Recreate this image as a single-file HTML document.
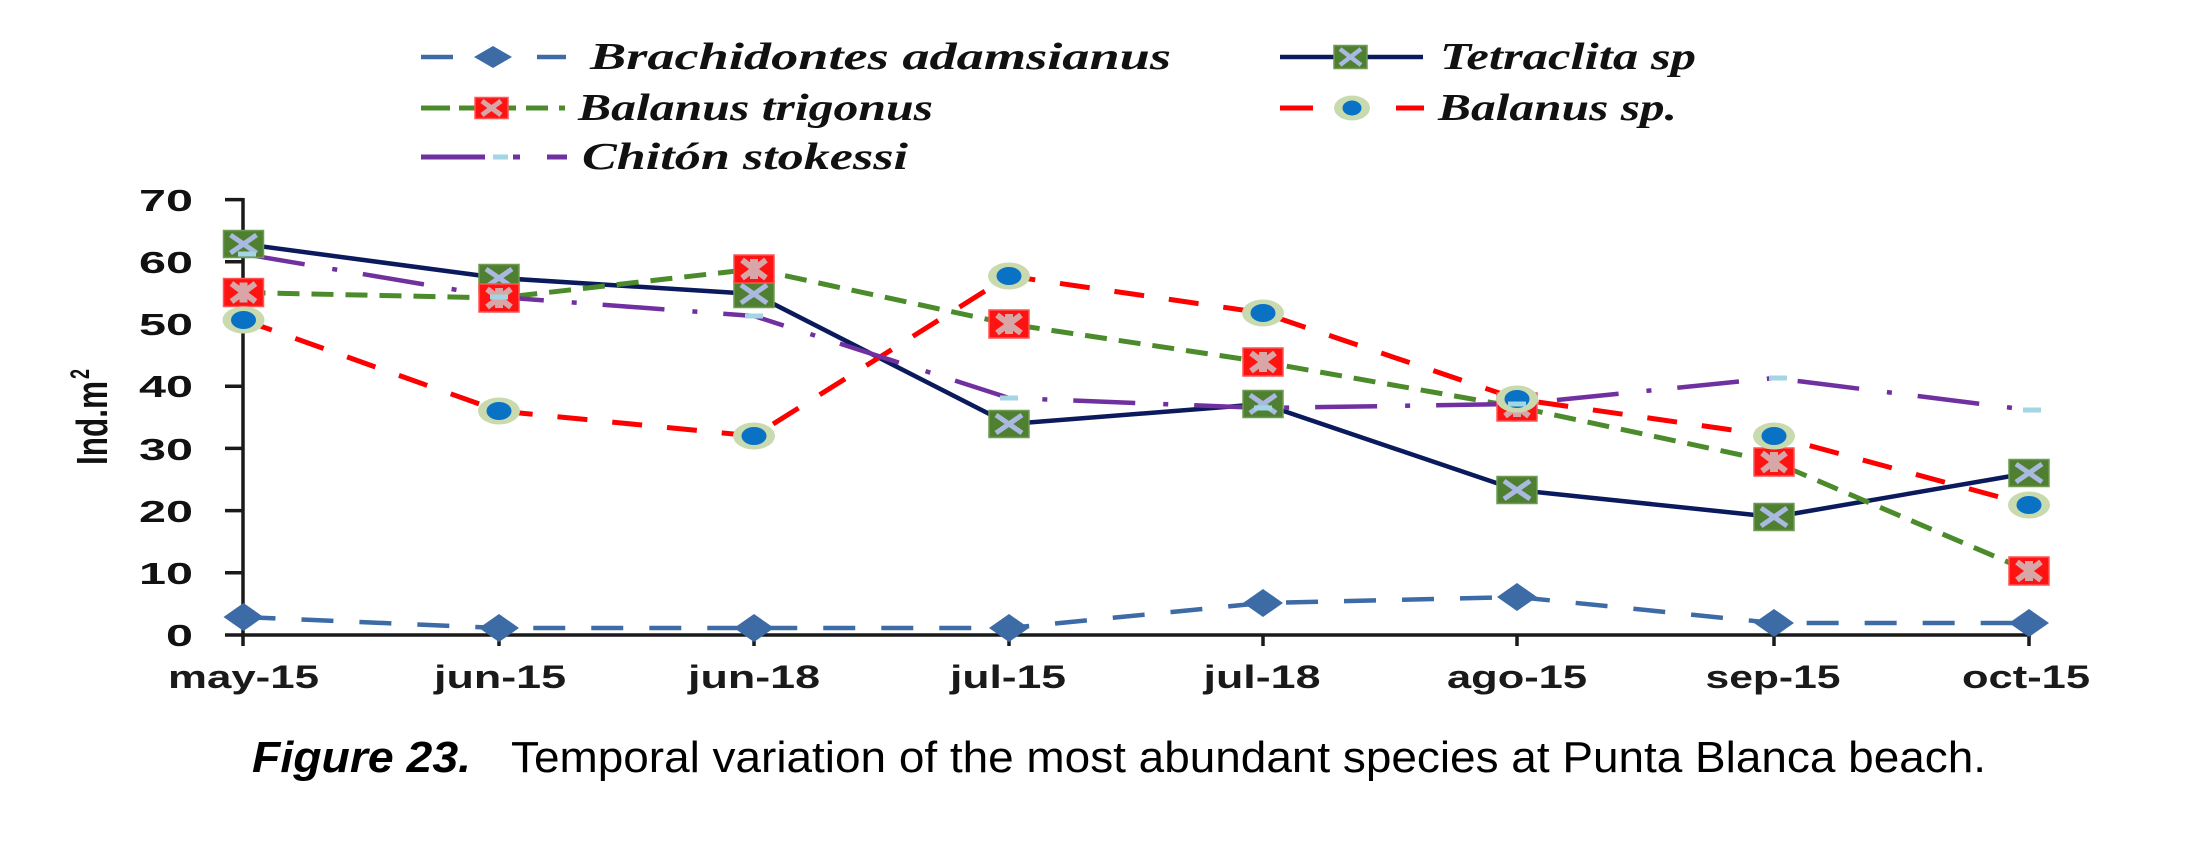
<!DOCTYPE html>
<html>
<head>
<meta charset="utf-8">
<style>
html,body{margin:0;padding:0;background:#fff;}
svg{display:block;}
</style>
</head>
<body>
<svg width="2196" height="863" viewBox="0 0 2196 863" xmlns="http://www.w3.org/2000/svg" xmlns:xlink="http://www.w3.org/1999/xlink">
<defs>
  <g id="mTet">
    <rect x="-20" y="-13.5" width="40" height="27" fill="#4F7F30" stroke="#6F9B52" stroke-width="1.5"/>
    <line x1="-13" y1="-9" x2="13" y2="9" stroke="#AAB9E0" stroke-width="5"/>
    <line x1="-13" y1="9" x2="13" y2="-9" stroke="#AAB9E0" stroke-width="5"/>
  </g>
  <g id="mTri">
    <rect x="-20" y="-14" width="40" height="28" fill="#FF1212" stroke="#FF5555" stroke-width="1.5"/>
    <line x1="-12" y1="-9" x2="12" y2="9" stroke="#D8A6A6" stroke-width="6"/>
    <line x1="-12" y1="9" x2="12" y2="-9" stroke="#D8A6A6" stroke-width="6"/>
    <rect x="-4" y="-10" width="8" height="20" fill="#D8A6A6"/>
  </g>
  <g id="mSp">
    <ellipse cx="0" cy="0" rx="21" ry="13.5" fill="#C9DAAE"/>
    <ellipse cx="0" cy="0" rx="12.5" ry="9" fill="#0A72C4"/>
  </g>
  <g id="mBra">
    <polygon points="0,-14 20,0 0,14 -20,0" fill="#3D6BA6"/>
  </g>
  <g id="mChi">
    <rect x="-9" y="-2.5" width="18" height="5" fill="#A3D5E3"/>
  </g>
</defs>

<!-- Legend -->
<g>
  <line x1="421" y1="57" x2="453" y2="57" stroke="#3D6BA6" stroke-width="4.5"/>
  <line x1="537" y1="57" x2="566" y2="57" stroke="#3D6BA6" stroke-width="4.5"/>
  <polygon points="493,46 512,57 493,68 474,57" fill="#3D6BA6"/>
  <text x="590" y="69" font-family="Liberation Serif, serif" font-style="italic" font-weight="bold" font-size="38" textLength="581" lengthAdjust="spacingAndGlyphs" fill="#111">Brachidontes adamsianus</text>

  <line x1="421" y1="108" x2="450" y2="108" stroke="#4B8B2B" stroke-width="5"/>
  <line x1="459" y1="108" x2="476" y2="108" stroke="#4B8B2B" stroke-width="5"/>
  <line x1="506" y1="108" x2="516" y2="108" stroke="#4B8B2B" stroke-width="5"/>
  <line x1="526" y1="108" x2="548" y2="108" stroke="#4B8B2B" stroke-width="5"/>
  <line x1="559" y1="108" x2="565" y2="108" stroke="#4B8B2B" stroke-width="5"/>
  <rect x="475" y="97.5" width="33" height="21" fill="#FF1212" stroke="#FF5555" stroke-width="1.5"/>
  <line x1="482" y1="101" x2="501" y2="115" stroke="#D8A6A6" stroke-width="5"/>
  <line x1="482" y1="115" x2="501" y2="101" stroke="#D8A6A6" stroke-width="5"/>
  <text x="578" y="120" font-family="Liberation Serif, serif" font-style="italic" font-weight="bold" font-size="38" textLength="355" lengthAdjust="spacingAndGlyphs" fill="#111">Balanus trigonus</text>

  <line x1="421" y1="157" x2="485" y2="157" stroke="#7030A0" stroke-width="5"/>
  <line x1="493" y1="157" x2="508" y2="157" stroke="#A3D5E3" stroke-width="5"/>
  <line x1="513" y1="157" x2="520" y2="157" stroke="#7030A0" stroke-width="5"/>
  <line x1="547" y1="157" x2="567" y2="157" stroke="#7030A0" stroke-width="5"/>
  <text x="582" y="169" font-family="Liberation Serif, serif" font-style="italic" font-weight="bold" font-size="38" textLength="326" lengthAdjust="spacingAndGlyphs" fill="#111">Chitón  stokessi</text>

  <line x1="1280" y1="57" x2="1423" y2="57" stroke="#0A1A5C" stroke-width="4.5"/>
  <rect x="1334" y="45.5" width="33" height="23" fill="#4F7F30" stroke="#6F9B52" stroke-width="1.5"/>
  <line x1="1340" y1="49" x2="1361" y2="65" stroke="#AAB9E0" stroke-width="4.5"/>
  <line x1="1340" y1="65" x2="1361" y2="49" stroke="#AAB9E0" stroke-width="4.5"/>
  <text x="1440" y="69" font-family="Liberation Serif, serif" font-style="italic" font-weight="bold" font-size="38" textLength="256" lengthAdjust="spacingAndGlyphs" fill="#111">Tetraclita sp</text>

  <line x1="1280" y1="108" x2="1313" y2="108" stroke="#FF0000" stroke-width="5"/>
  <line x1="1396" y1="108" x2="1424" y2="108" stroke="#FF0000" stroke-width="5"/>
  <ellipse cx="1352" cy="108" rx="18" ry="12.5" fill="#C9DAAE"/>
  <ellipse cx="1352" cy="108" rx="9.5" ry="7.5" fill="#0A72C4"/>
  <text x="1438" y="120" font-family="Liberation Serif, serif" font-style="italic" font-weight="bold" font-size="38" textLength="239" lengthAdjust="spacingAndGlyphs" fill="#111">Balanus sp.</text>
</g>

<!-- Axes -->
<g stroke="#1a1a1a" stroke-width="3.5">
  <line x1="243" y1="198" x2="243" y2="646"/>
  <line x1="241" y1="635" x2="2031" y2="635"/>
  <line x1="225" y1="635" x2="243" y2="635"/>
  <line x1="225" y1="572.8" x2="243" y2="572.8"/>
  <line x1="225" y1="510.6" x2="243" y2="510.6"/>
  <line x1="225" y1="448.4" x2="243" y2="448.4"/>
  <line x1="225" y1="386.2" x2="243" y2="386.2"/>
  <line x1="225" y1="324" x2="243" y2="324"/>
  <line x1="225" y1="261.8" x2="243" y2="261.8"/>
  <line x1="225" y1="199.6" x2="243" y2="199.6"/>
  <line x1="499" y1="635" x2="499" y2="646"/>
  <line x1="754" y1="635" x2="754" y2="646"/>
  <line x1="1009" y1="635" x2="1009" y2="646"/>
  <line x1="1263" y1="635" x2="1263" y2="646"/>
  <line x1="1517" y1="635" x2="1517" y2="646"/>
  <line x1="1774" y1="635" x2="1774" y2="646"/>
  <line x1="2029" y1="635" x2="2029" y2="646"/>
</g>

<!-- Y tick labels -->
<g font-family="Liberation Sans, sans-serif" font-weight="bold" font-size="31" fill="#111" text-anchor="end">
  <text x="193" y="646" textLength="27" lengthAdjust="spacingAndGlyphs">0</text>
  <text x="193" y="584" textLength="54" lengthAdjust="spacingAndGlyphs">10</text>
  <text x="193" y="522" textLength="54" lengthAdjust="spacingAndGlyphs">20</text>
  <text x="193" y="460" textLength="54" lengthAdjust="spacingAndGlyphs">30</text>
  <text x="193" y="397" textLength="54" lengthAdjust="spacingAndGlyphs">40</text>
  <text x="193" y="335" textLength="54" lengthAdjust="spacingAndGlyphs">50</text>
  <text x="193" y="273" textLength="54" lengthAdjust="spacingAndGlyphs">60</text>
  <text x="193" y="211" textLength="54" lengthAdjust="spacingAndGlyphs">70</text>
</g>

<!-- Y axis title -->
<g transform="translate(107,465) scale(1.5,1) rotate(-90)">
  <text x="0" y="0" font-family="Liberation Sans, sans-serif" font-weight="bold" font-size="29" fill="#111" textLength="84" lengthAdjust="spacingAndGlyphs">Ind.m</text>
  <text x="86" y="-12" font-family="Liberation Sans, sans-serif" font-weight="bold" font-size="18" fill="#111">2</text>
</g>

<!-- X labels -->
<g font-family="Liberation Sans, sans-serif" font-weight="bold" font-size="32" fill="#1a1a1a" text-anchor="middle">
  <text x="243.5" y="688" textLength="151" lengthAdjust="spacingAndGlyphs">may-15</text>
  <text x="500" y="688" textLength="132" lengthAdjust="spacingAndGlyphs">jun-15</text>
  <text x="754" y="688" textLength="132" lengthAdjust="spacingAndGlyphs">jun-18</text>
  <text x="1008" y="688" textLength="116" lengthAdjust="spacingAndGlyphs">jul-15</text>
  <text x="1262" y="688" textLength="117" lengthAdjust="spacingAndGlyphs">jul-18</text>
  <text x="1517" y="688" textLength="140" lengthAdjust="spacingAndGlyphs">ago-15</text>
  <text x="1773" y="688" textLength="135" lengthAdjust="spacingAndGlyphs">sep-15</text>
  <text x="2026" y="688" textLength="128" lengthAdjust="spacingAndGlyphs">oct-15</text>
</g>

<!-- Series lines -->
<g fill="none" stroke-linejoin="round">
  <polyline points="243.5,617 499,628 754,628 1009,628 1263,603 1517,597 1774,623 2029,623" stroke="#3D6BA6" stroke-width="4.5" stroke-dasharray="32 26"/>
  <polyline points="243.5,244 499,278 754,294 1009,424 1263,404 1517,490 1774,517 2029,473" stroke="#0A1A5C" stroke-width="4.5"/>
  <polyline points="243.5,292.5 499,298 754,269 1009,324 1263,362 1517,407 1774,462 2029,571" stroke="#4B8B2B" stroke-width="5" stroke-dasharray="22 12"/>
  <polyline points="243.5,320 499,411 754,436 1009,276 1263,313 1517,399 1774,436 2029,505" stroke="#FF0000" stroke-width="5" stroke-dasharray="30 25"/>
  <polyline points="243.5,254 499,297 754,316 1009,398 1263,408 1517,404 1774,378 2029,410" stroke="#7030A0" stroke-width="4.5" stroke-dasharray="62 28 5 26"/>
</g>

<!-- Markers -->
<g>
  <use href="#mBra" xlink:href="#mBra" x="243.5" y="617"/>
  <use href="#mBra" xlink:href="#mBra" x="499" y="628"/>
  <use href="#mBra" xlink:href="#mBra" x="754" y="628"/>
  <use href="#mBra" xlink:href="#mBra" x="1009" y="628"/>
  <use href="#mBra" xlink:href="#mBra" x="1263" y="603"/>
  <use href="#mBra" xlink:href="#mBra" x="1517" y="597"/>
  <use href="#mBra" xlink:href="#mBra" x="1774" y="623"/>
  <use href="#mBra" xlink:href="#mBra" x="2029" y="623"/>

  <use href="#mTet" xlink:href="#mTet" x="243.5" y="244"/>
  <use href="#mTet" xlink:href="#mTet" x="499" y="278"/>
  <use href="#mTet" xlink:href="#mTet" x="754" y="294"/>
  <use href="#mTet" xlink:href="#mTet" x="1009" y="424"/>
  <use href="#mTet" xlink:href="#mTet" x="1263" y="404"/>
  <use href="#mTet" xlink:href="#mTet" x="1517" y="490"/>
  <use href="#mTet" xlink:href="#mTet" x="1774" y="517"/>
  <use href="#mTet" xlink:href="#mTet" x="2029" y="473"/>

  <use href="#mTri" xlink:href="#mTri" x="243.5" y="292.5"/>
  <use href="#mTri" xlink:href="#mTri" x="499" y="298"/>
  <use href="#mTri" xlink:href="#mTri" x="754" y="269"/>
  <use href="#mTri" xlink:href="#mTri" x="1009" y="324"/>
  <use href="#mTri" xlink:href="#mTri" x="1263" y="362"/>
  <use href="#mTri" xlink:href="#mTri" x="1517" y="407"/>
  <use href="#mTri" xlink:href="#mTri" x="1774" y="462"/>
  <use href="#mTri" xlink:href="#mTri" x="2029" y="571"/>

  <use href="#mSp" xlink:href="#mSp" x="243.5" y="320"/>
  <use href="#mSp" xlink:href="#mSp" x="499" y="411"/>
  <use href="#mSp" xlink:href="#mSp" x="754" y="436"/>
  <use href="#mSp" xlink:href="#mSp" x="1009" y="276"/>
  <use href="#mSp" xlink:href="#mSp" x="1263" y="313"/>
  <use href="#mSp" xlink:href="#mSp" x="1517" y="399"/>
  <use href="#mSp" xlink:href="#mSp" x="1774" y="436"/>
  <use href="#mSp" xlink:href="#mSp" x="2029" y="505"/>

  <use href="#mChi" xlink:href="#mChi" x="247" y="254"/>
  <use href="#mChi" xlink:href="#mChi" x="499" y="297"/>
  <use href="#mChi" xlink:href="#mChi" x="754" y="316"/>
  <use href="#mChi" xlink:href="#mChi" x="1009" y="398"/>
  <use href="#mChi" xlink:href="#mChi" x="1263" y="408"/>
  <use href="#mChi" xlink:href="#mChi" x="1517" y="404"/>
  <use href="#mChi" xlink:href="#mChi" x="1778" y="378"/>
  <use href="#mChi" xlink:href="#mChi" x="2032" y="410"/>
</g>

<!-- Caption -->
<text x="252" y="772" font-family="Liberation Sans, sans-serif" font-weight="bold" font-style="italic" font-size="44" fill="#000" textLength="219" lengthAdjust="spacingAndGlyphs">Figure 23.</text>
<text x="511" y="772" font-family="Liberation Sans, sans-serif" font-size="44" fill="#000" textLength="1475" lengthAdjust="spacingAndGlyphs">Temporal variation of the most abundant species at Punta Blanca beach.</text>
</svg>
</body>
</html>
